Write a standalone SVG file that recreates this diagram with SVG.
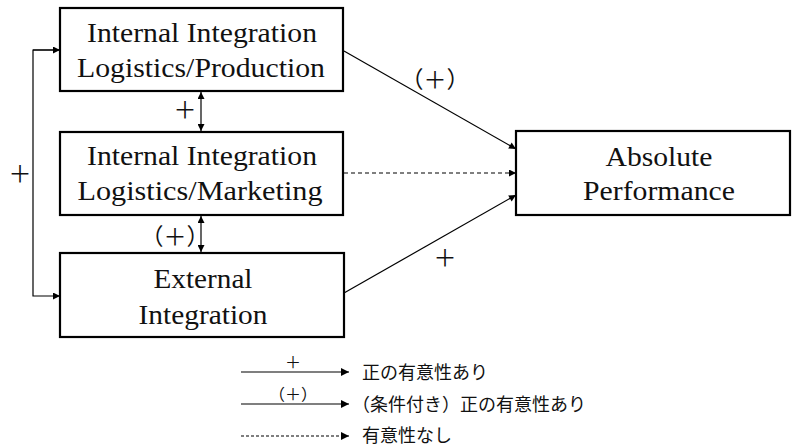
<svg xmlns="http://www.w3.org/2000/svg" width="792" height="446" viewBox="0 0 792 446">
<defs>
<style>
.box{fill:#fff;stroke:#000;stroke-width:2.2}
.t{font-size:27px;fill:#111;text-anchor:middle}
.c{stroke:#000;stroke-width:1.2;fill:none}
.d{stroke:#000;stroke-width:1.2;fill:none;stroke-dasharray:4 3}
.lbl{font-family:"Noto Sans CJK JP",sans-serif;font-size:23px;fill:#111;text-anchor:middle}
.lg{font-family:"Noto Sans CJK JP",sans-serif;font-size:18px;fill:#111}
</style>
<marker id="ah" viewBox="0 0 10 10" refX="10" refY="5" markerWidth="9" markerHeight="7" markerUnits="userSpaceOnUse" orient="auto-start-reverse">
<path d="M0,0 L10,5 L0,10 Z" fill="#000"/>
</marker>
<marker id="ahl" viewBox="0 0 10 10" refX="10" refY="5" markerWidth="10" markerHeight="8" markerUnits="userSpaceOnUse" orient="auto">
<path d="M0,0 L10,5 L0,10 Z" fill="#000"/>
</marker>
</defs>
<rect width="792" height="446" fill="#fff"/>
<g id="connectors">
<path class="c" d="M60,50 H33 V296 H60" stroke="#555" stroke-width="1.5" marker-end="url(#ah)"/>
<line class="c" x1="33" y1="50" x2="60" y2="50" stroke="#555" marker-end="url(#ah)"/>
<line class="c" x1="201" y1="92" x2="201" y2="131" marker-start="url(#ah)" marker-end="url(#ah)"/>
<line class="c" x1="201" y1="216" x2="201" y2="252" marker-start="url(#ah)" marker-end="url(#ah)"/>
<line class="c" x1="344" y1="51" x2="516" y2="149" marker-end="url(#ah)"/>
<line class="d" x1="344" y1="173" x2="516" y2="173" marker-end="url(#ah)"/>
<line class="c" x1="344" y1="293" x2="516" y2="195" marker-end="url(#ah)"/>
<text class="lbl" x="20" y="182">＋</text>
<text class="lbl" x="185" y="118">＋</text>
<text class="lbl" x="175" y="245">（＋）</text>
<text class="lbl" x="435" y="88">（＋）</text>
<text class="lbl" x="445" y="266">＋</text>
</g>
<g font-family="Liberation Serif, Times New Roman, Times, serif">
<g id="n1">
<rect class="box" x="60" y="8" width="283" height="83"/>
<text class="t" x="202" y="42" textLength="230" lengthAdjust="spacingAndGlyphs">Internal Integration</text>
<text class="t" x="201" y="77" textLength="248" lengthAdjust="spacingAndGlyphs">Logistics/Production</text>
</g>
<g id="n2">
<rect class="box" x="60" y="132" width="283" height="83"/>
<text class="t" x="202" y="165" textLength="230" lengthAdjust="spacingAndGlyphs">Internal Integration</text>
<text class="t" x="200" y="200" textLength="245" lengthAdjust="spacingAndGlyphs">Logistics/Marketing</text>
</g>
<g id="n3">
<rect class="box" x="60" y="253" width="284" height="84"/>
<text class="t" x="203" y="288" textLength="99" lengthAdjust="spacingAndGlyphs">External</text>
<text class="t" x="203" y="324" textLength="129" lengthAdjust="spacingAndGlyphs">Integration</text>
</g>
<g id="n4">
<rect class="box" x="516" y="131" width="274" height="84"/>
<text class="t" x="659" y="166" textLength="107" lengthAdjust="spacingAndGlyphs">Absolute</text>
<text class="t" x="659" y="200" textLength="152" lengthAdjust="spacingAndGlyphs">Performance</text>
</g>
</g>
<g id="legend">
<line class="c" x1="241" y1="372" x2="349" y2="372" marker-end="url(#ahl)"/>
<text class="lbl" x="293" y="368" style="font-size:16px">＋</text>
<text class="lg" x="362" y="379">正の有意性あり</text>
<line class="c" x1="241" y1="404" x2="349" y2="404" marker-end="url(#ahl)"/>
<text class="lbl" x="293" y="400" style="font-size:16px">（＋）</text>
<text class="lg" x="352" y="411">（条件付き）正の有意性あり</text>
<line class="c" x1="241" y1="436" x2="349" y2="436" stroke-dasharray="3 2" marker-end="url(#ahl)"/>
<text class="lg" x="362" y="442">有意性なし</text>
</g>
</svg>
